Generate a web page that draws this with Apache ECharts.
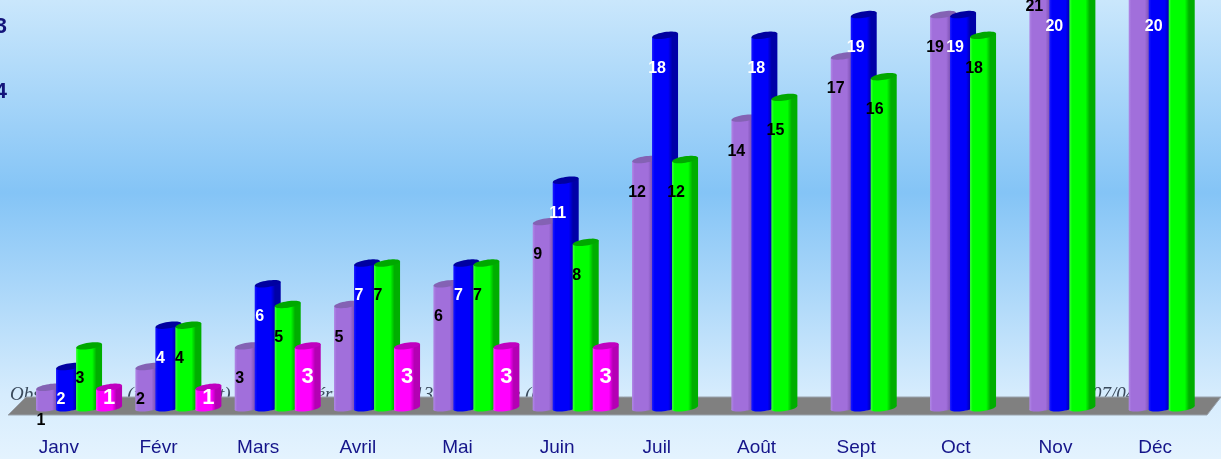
<!DOCTYPE html>
<html>
<head>
<meta charset="utf-8">
<script src="https://cdn.jsdelivr.net/npm/echarts/dist/echarts.min.js"></script>
<style>
html,body{margin:0;padding:0;overflow:hidden;}
#chart{width:1221px;height:459px;}
</style>
</head>
<body>
<div id="chart"></div>
<script>
// ---- data ----
const months = ['Janv','Févr','Mars','Avril','Mai','Juin','Juil','Août','Sept','Oct','Nov','Déc'];
const seriesNames = ['Série 1','Série 2','Série 3','Série 4'];
const purpleValues  = [1, 2, 3, 5, 6, 9, 12, 14, 17, 19, 21, 22];
const blueValues    = [2, 4, 6, 7, 7, 11, 18, 18, 19, 19, 20, 20];
const greenValues   = [3, 4, 5, 7, 7, 8, 12, 15, 16, 18, 22, 22];
const magentaValues = [1, 1, 3, 3, 3, 3, null, null, null, null, null, null];
const legendFragments = ['2013', '2014'];
const backTextLeft = 'Observations : (jour de vent) cumulés, période 2012-13, / moyenne ((';
const backTextRight = '07/04/2013';

// ---- styles ----
const palettes = [
  {base:'#a16fdb', light:'#b088e6', dark:'#7d52b4', top:'#8462b4', label:'#000000', font:'bold 16px "Liberation Sans", Arial, sans-serif', dx:5, dy:31, mid:false},
  {base:'#0000fa', light:'#1a1aff', dark:'#0000a8', top:'#0000a0', label:'#ffffff', font:'bold 16px "Liberation Sans", Arial, sans-serif', dx:5, dy:31, mid:false},
  {base:'#00ff00', light:'#40ff40', dark:'#00ae00', top:'#00a800', label:'#000000', font:'bold 16px "Liberation Sans", Arial, sans-serif', dx:4, dy:31, mid:false},
  {base:'#ff00ff', light:'#ff40ff', dark:'#b400b4', top:'#c000c0', label:'#ffffff', font:'bold 22px "Liberation Sans", Arial, sans-serif', dx:13, dy:-2, mid:true}
];
const allValues = [purpleValues, blueValues, greenValues, magentaValues];

function ellipsePts(cx, cy, rx, ry, rot, n) {
  const pts = [];
  const c = Math.cos(rot), s = Math.sin(rot);
  for (let i = 0; i < n; i++) {
    const t = i / n * Math.PI * 2;
    const ex = rx * Math.cos(t), ey = ry * Math.sin(t);
    pts.push([cx + ex * c + ey * s, cy - ex * s + ey * c]);
  }
  return pts;
}

function makeSeries(idx) {
  const pal = palettes[idx];
  const data = [];
  allValues[idx].forEach((v, i) => { if (v !== null && v !== undefined) data.push([i, v]); });
  return {
    type: 'custom',
    name: seriesNames[idx],
    xAxisIndex: 0,
    yAxisIndex: 0,
    encode: {x: 0, y: 1},
    data: data,
    renderItem: function (params, api) {
      const ci = api.value(0), v = api.value(1);
      const topPt = api.coord([ci, v]);
      const basePt = api.coord([ci, 0]);
      const band = api.size([1, 0])[0];
      const W = band * 0.2014;
      const D = 6, dy = 4;
      const L = topPt[0] - band * 0.403 + idx * W;
      const yT = topPt[1], yB = basePt[1];
      const tot = W + D;
      const rot = Math.atan2(dy, tot);
      const grad = new echarts.graphic.LinearGradient(0, 0, 1, 0, [
        {offset: 0, color: pal.light},
        {offset: 0.1, color: pal.base},
        {offset: 0.62, color: pal.base},
        {offset: 0.78, color: pal.dark},
        {offset: 1, color: pal.dark}
      ]);
      const ly = pal.mid ? (yT + yB) / 2 + pal.dy : yT + pal.dy;
      const children = [
        {type: 'polygon', shape: {points: ellipsePts(L + tot / 2, yB - dy / 2, tot / 2, 3, rot, 40)}, style: {fill: grad}},
        {type: 'polygon', shape: {points: [[L, yT], [L + tot, yT - dy], [L + tot, yB - dy], [L, yB]]}, style: {fill: grad}},
        {type: 'polygon', shape: {points: ellipsePts(L + tot / 2, yT - dy / 2, tot / 2, 3.2, rot, 40)}, style: {fill: pal.top}},
        {type: 'text', z2: 100, style: {
          text: String(v), x: L + pal.dx, y: ly,
          fill: pal.label, font: pal.font,
          align: 'center', verticalAlign: 'middle', textAlign: 'center', textVerticalAlign: 'middle'
        }}
      ];
      return {type: 'group', children: children};
    }
  };
}

const chart = echarts.init(document.getElementById('chart'), null, {renderer: 'canvas'});
chart.setOption({
  animation: false,
  backgroundColor: new echarts.graphic.LinearGradient(0, 0, 0, 1, [
    {offset: 0, color: '#cae7fc'},
    {offset: 0.42, color: '#84c4f6'},
    {offset: 0.86, color: '#d6ecfd'},
    {offset: 1, color: '#e4f3fe'}
  ]),
  grid: [
    {left: 26.4, right: 2.6, top: 0, bottom: 49, containLabel: false},
    {left: 9, right: 16, top: 0, bottom: 31, containLabel: false}
  ],
  xAxis: [
    {type: 'category', gridIndex: 0, data: months, show: false, boundaryGap: true},
    {type: 'category', gridIndex: 1, data: months, boundaryGap: true,
     axisLine: {show: false}, axisTick: {show: false}, splitLine: {show: false},
     axisLabel: {color: '#15158a', fontSize: 19, fontFamily: '"Liberation Sans", Arial, sans-serif', margin: 10}}
  ],
  yAxis: [
    {type: 'value', gridIndex: 0, min: 0, max: 19.8, show: false, splitLine: {show: false}},
    {type: 'value', gridIndex: 1, min: 0, max: 1, show: false, splitLine: {show: false}}
  ],
  graphic: [
    {type: 'text', z: 0, style: {text: legendFragments[0], x: 7, y: 27, fill: '#14147a', font: 'bold 22px "Liberation Sans", Arial, sans-serif', align: 'right', verticalAlign: 'middle', textAlign: 'right', textVerticalAlign: 'middle'}},
    {type: 'text', z: 0, style: {text: legendFragments[1], x: 7, y: 92, fill: '#14147a', font: 'bold 22px "Liberation Sans", Arial, sans-serif', align: 'right', verticalAlign: 'middle', textAlign: 'right', textVerticalAlign: 'middle'}},
    {type: 'text', z: 0, style: {text: backTextLeft, x: 10, y: 395, fill: '#3a4a5c', font: 'italic 19px "Liberation Serif", "DejaVu Serif", serif', align: 'left', verticalAlign: 'middle', textAlign: 'left', textVerticalAlign: 'middle'}},
    {type: 'text', z: 0, style: {text: backTextRight, x: 1092, y: 395, fill: '#3a4a5c', font: 'italic 19px "Liberation Serif", "DejaVu Serif", serif', align: 'left', verticalAlign: 'middle', textAlign: 'left', textVerticalAlign: 'middle'}},
    {type: 'polygon', z: 1, shape: {points: [[8, 415], [1207, 415], [1221, 397], [26, 397]]}, style: {fill: '#808080', stroke: '#9aa3ad', lineWidth: 1}}
  ],
  series: [makeSeries(0), makeSeries(1), makeSeries(2), makeSeries(3)]
});
</script>
</body>
</html>
